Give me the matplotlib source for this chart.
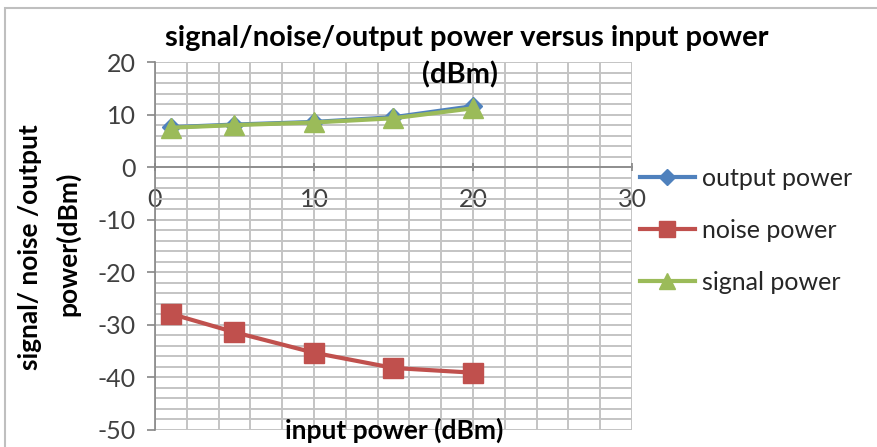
import matplotlib
matplotlib.use("Agg")
import matplotlib.pyplot as plt
from matplotlib.ticker import MultipleLocator

# data
input_power = [1, 5, 10, 15, 20]
output_power = [7.6, 8.1, 8.6, 9.5, 11.6]
noise_power = [-27.9, -31.4, -35.3, -38.2, -39.1]
signal_power = [7.5, 8.0, 8.5, 9.3, 11.2]

plt.rcParams['font.family'] = ['Lato', 'DejaVu Sans']
plt.rcParams['axes.unicode_minus'] = False

fig = plt.figure(figsize=(8.78, 4.47), dpi=100)
ax = fig.add_axes([155 / 878, 1 - 430 / 447, 477 / 878, 368 / 447])

ax.plot(input_power, output_power, color="#4F81BD", lw=3, marker="D",
        ms=9, label="output power", zorder=3)
ax.plot(input_power, noise_power, color="#C0504D", lw=3, marker="s",
        ms=14, label="noise power", zorder=3)
ax.plot(input_power, signal_power, color="#9BBB59", lw=3, marker="^",
        ms=14, label="signal power", zorder=4)

ax.set_xlim(0, 30)
ax.set_ylim(-50, 20)
ax.xaxis.set_major_locator(MultipleLocator(10))
ax.yaxis.set_major_locator(MultipleLocator(10))
ax.xaxis.set_minor_locator(MultipleLocator(2))
ax.yaxis.set_minor_locator(MultipleLocator(2))
ax.grid(which="both", color="#c4c4c4", lw=1.4)
ax.set_axisbelow(True)

# x axis crosses at y = 0 like the Excel chart
ax.spines["bottom"].set_position(("data", 0))
ax.spines["top"].set_visible(False)
ax.spines["right"].set_visible(False)
for s in ("left", "bottom"):
    ax.spines[s].set_color("#868686")
    ax.spines[s].set_linewidth(1.2)
ax.tick_params(which="major", length=6, width=1.2, color="#868686",
               labelsize=18, pad=8, labelcolor="#404040")
ax.tick_params(axis="x", which="major", direction="inout", pad=12)
ax.tick_params(which="minor", length=0)

fig.text(467 / 878, 1 - 38 / 447, "signal/noise/output power versus input power",
         ha="center", va="center", fontsize=21, fontweight="bold")
fig.text(460 / 878, 1 - 75 / 447, "(dBm)", ha="center", va="center",
         fontsize=21, fontweight="bold")
fig.text(394 / 878, 1 - 430 / 447, "input power (dBm)", ha="center",
         va="center", fontsize=19, fontweight="bold")
fig.text(30 / 878, 1 - 247 / 447, "signal/ noise /output", ha="center",
         va="center", rotation=90, fontsize=19, fontweight="bold")
fig.text(68 / 878, 1 - 244 / 447, "power(dBm)", ha="center",
         va="center", rotation=90, fontsize=19, fontweight="bold")

leg = fig.legend(loc="upper left", bbox_to_anchor=(630 / 878, 1 - 157 / 447),
                 frameon=False, fontsize=18, handlelength=2.2,
                 labelspacing=1.15, handletextpad=0.3, borderaxespad=0,
                 markerscale=0.85)
for t in leg.get_texts():
    t.set_color("#262626")

# thin frame around the chart area
fig.patches.append(plt.Rectangle((5 / 878, -0.01), 1.0, 1 - 8 / 447 + 0.01,
                                 transform=fig.transFigure, fill=False,
                                 edgecolor="#bfbfbf", lw=1.5))

fig.savefig("out.png", dpi=100)
